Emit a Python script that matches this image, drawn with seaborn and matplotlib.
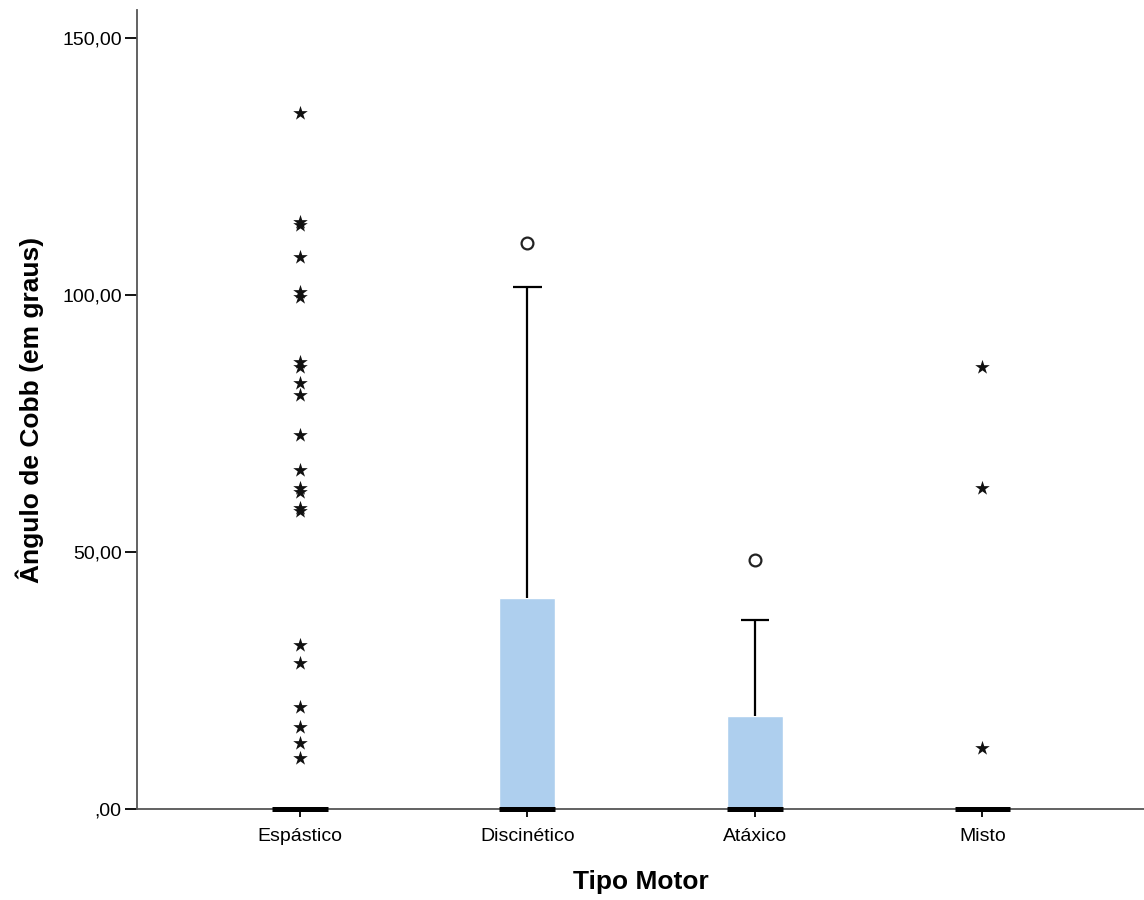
import numpy as np
import pandas as pd
import seaborn as sns
import matplotlib.pyplot as plt

# Boxplot summary per motor type (values in degrees)
categories = ["Espástico", "Discinético", "Atáxico", "Misto"]
q1 = [0.0, 0.0, 0.0, 0.0]
medians = [0.0, 0.0, 0.0, 0.0]
q3 = [0.0, 41.0, 18.1, 0.0]
whisker_low = [0.0, 0.0, 0.0, 0.0]
whisker_high = [0.0, 101.6, 36.8, 0.0]

# extreme values (stars)
esp_extremes = [135.4, 114.2, 113.6, 107.4, 100.6, 99.6, 87.0, 86.0, 82.9, 80.5,
                72.8, 66.0, 62.5, 61.7, 58.6, 58.0, 31.9, 28.4, 19.8, 15.9, 12.8, 9.9]
misto_extremes = [86.0, 62.5, 11.9]
# outliers (circles)
disc_outliers = [110.0]
atax_outliers = [48.4]

yticks = [0, 50, 100, 150]
ytick_labels = [",00", "50,00", "100,00", "150,00"]

box_color = "#AECFEE"

sns.set_style("white")
plt.rcParams["font.family"] = ["Liberation Sans", "DejaVu Sans"]
plt.rcParams["text.color"] = "black"
plt.rcParams["axes.labelcolor"] = "black"
plt.rcParams["xtick.color"] = "black"
plt.rcParams["ytick.color"] = "black"

fig = plt.figure(figsize=(11.44, 9), dpi=100)
ax = fig.add_axes([137 / 1144, 91 / 900, 1007 / 1144, 799 / 900])

extremes = pd.DataFrame({
    "tipo": ["Espástico"] * len(esp_extremes) + ["Misto"] * len(misto_extremes),
    "valor": esp_extremes + misto_extremes,
})
outliers = pd.DataFrame({
    "tipo": ["Discinético"] * len(disc_outliers) + ["Atáxico"] * len(atax_outliers),
    "valor": disc_outliers + atax_outliers,
})

sns.stripplot(data=extremes, x="tipo", y="valor", order=categories, jitter=False,
              marker="*", size=11, color="#111111", linewidth=0, ax=ax, zorder=5)
sns.stripplot(data=outliers, x="tipo", y="valor", order=categories, jitter=False,
              marker="o", size=8.5, color="white", edgecolor="#222222", linewidth=1.6,
              ax=ax, zorder=5)

pos = np.arange(len(categories))
box_w = 0.245
cap_w = 0.125
q1a, q3a = np.array(q1), np.array(q3)
wl, wh = np.array(whisker_low), np.array(whisker_high)

# boxes
ax.bar(pos, q3a - q1a, bottom=q1a, width=box_w, color=box_color, zorder=2)
# whiskers
has_hi = wh > q3a
ax.vlines(pos[has_hi], q3a[has_hi], wh[has_hi], color="black", lw=1.6, zorder=3)
ax.hlines(wh[has_hi], pos[has_hi] - cap_w / 2, pos[has_hi] + cap_w / 2,
          color="black", lw=1.6, zorder=3)
has_lo = wl < q1a
ax.vlines(pos[has_lo], wl[has_lo], q1a[has_lo], color="black", lw=1.6, zorder=3)
# medians
ax.hlines(medians, pos - box_w / 2, pos + box_w / 2, color="black", lw=3.6,
          zorder=4, clip_on=False)

ax.set_xlim(-0.715, 3.71)
ax.set_ylim(0, 155.4)
ax.set_xticks(pos)
ax.set_xticklabels(categories, fontsize=14)
ax.set_yticks(yticks)
ax.set_yticklabels(ytick_labels, fontsize=14)
ax.tick_params(axis="x", bottom=True, length=6, width=1.3, direction="out", pad=8)
ax.tick_params(axis="y", left=True, length=9, width=1.3, direction="out", pad=2)

ax.set_xlabel("Tipo Motor", fontsize=19, fontweight="bold", labelpad=18)
ax.set_ylabel("Ângulo de Cobb (em graus)", fontsize=19, fontweight="bold", labelpad=13)

sns.despine(ax=ax, top=True, right=True)
for side in ["left", "bottom"]:
    ax.spines[side].set_color("#555555")
    ax.spines[side].set_linewidth(1.3)

plt.savefig("out.png", dpi=100)
